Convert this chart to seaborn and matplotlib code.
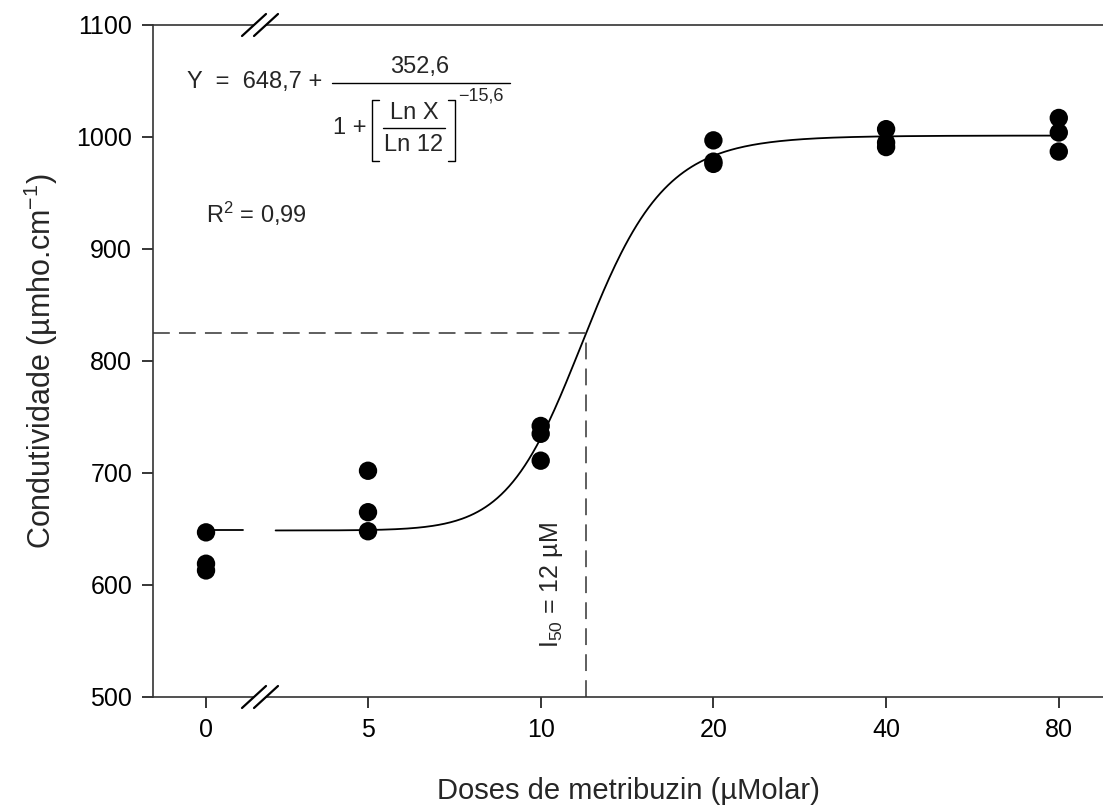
import numpy as np
import pandas as pd
import matplotlib
matplotlib.use("Agg")
import matplotlib.pyplot as plt
from matplotlib.lines import Line2D
from matplotlib.patches import Polygon
import seaborn as sns

# data
doses = [0, 5, 10, 20, 40, 80]
rep1 = [647, 702, 742, 997, 1007, 1017]
rep2 = [619, 665, 735, 978, 995, 1004]
rep3 = [613, 648, 711, 976, 991, 987]

# fitted model  Y = a + b / (1 + (lnX/ln x0)^c)
a_fit, b_fit, x0_fit, c_fit = 648.7, 352.6, 12.0, -15.6
tick_labels = ["0", "5", "10", "20", "40", "80"]

W, H = 1103, 807
sns.set_theme(style="ticks")
plt.rcParams["font.family"] = ["Liberation Sans", "DejaVu Sans"]
plt.rcParams["mathtext.fontset"] = "custom"
plt.rcParams["mathtext.rm"] = "Liberation Sans"
plt.rcParams["mathtext.it"] = "Liberation Sans:italic"

fig = plt.figure(figsize=(W / 100, H / 100), dpi=100)
ax = fig.add_axes([153 / W, 1 - 697 / H, 1 - 153 / W, (697 - 25) / H])

# x position: doubling scale from 5, the zero dose sits left of the break
ZERO_POS = -0.938
BREAK_POS = -0.625


def xpos(d):
    d = np.asarray(d, dtype=float)
    return np.where(d > 0, np.log2(np.where(d > 0, d, 1) / 5.0), ZERO_POS)


def model(x):
    return a_fit + b_fit / (1 + (np.log(x) / np.log(x0_fit)) ** c_fit)


df = pd.DataFrame({
    "dose": doses * 3,
    "cond": rep1 + rep2 + rep3,
})
df["pos"] = xpos(df["dose"])

# fitted curve
xr = np.geomspace(5 * 2 ** (BREAK_POS + 0.09), 80, 400)
curve = pd.DataFrame({"pos": xpos(xr), "cond": model(xr)})
left = pd.DataFrame({"pos": [ZERO_POS, BREAK_POS - 0.1], "cond": [a_fit, a_fit]})
sns.lineplot(data=left, x="pos", y="cond", color="black", lw=1.3, ax=ax)
sns.lineplot(data=curve, x="pos", y="cond", color="black", lw=1.3, ax=ax)

sns.scatterplot(data=df, x="pos", y="cond", color="black", s=175,
                edgecolor="none", zorder=5, ax=ax)

# I50 guide lines
y50 = model(x0_fit)
x50 = xpos(x0_fit)
ax.plot([-1.245, x50], [y50, y50], color="#333333", lw=1.1, dashes=(11, 6))
ax.plot([x50, x50], [500, y50], color="#333333", lw=1.1, dashes=(11, 6))

ax.set_xlim(-1.245, 4.256)
ax.set_ylim(500, 1100)
ax.set_xticks(xpos(doses))
ax.set_xticklabels(tick_labels)
ax.set_yticks(np.arange(500, 1101, 100))
ax.tick_params(direction="out", length=8, width=1.1, labelsize=18,
               colors="black", pad=7)
for side in ["left", "top", "bottom"]:
    ax.spines[side].set_color("#333333")
    ax.spines[side].set_linewidth(1.2)
ax.spines["right"].set_visible(False)
ax.spines["top"].set_visible(True)

ax.set_xlabel("Doses de metribuzin (µMolar)", fontsize=21, labelpad=25)
ax.set_ylabel("Condutividade (µmho.cm$^{-1}$)", fontsize=22, labelpad=12)

ax.text(x50 - 0.2, 600, "I$_{50}$ = 12 µM", rotation=90, fontsize=18,
        ha="center", va="center")


# axis break marks (figure pixels)
def fp(x, y):
    return (x / W, 1 - y / H)


for yb in (25, 697):
    xc = 260
    gap = Polygon([fp(xc - 6 - 11, yb + 10), fp(xc - 6 + 11, yb - 10),
                   fp(xc + 6 + 11, yb - 10), fp(xc + 6 - 11, yb + 10)],
                  closed=True, facecolor="white", edgecolor="none",
                  transform=fig.transFigure, zorder=10)
    fig.add_artist(gap)
    for off in (-6, 6):
        x1, y1 = fp(xc + off - 12, yb + 11)
        x2, y2 = fp(xc + off + 12, yb - 11)
        fig.add_artist(Line2D([x1, x2], [y1, y2], color="black", lw=1.6,
                              transform=fig.transFigure, zorder=11))

# equation
tf = fig.transFigure
fig.text(*fp(187, 82), "Y  =  648,7 +", fontsize=17, va="center", ha="left")
fig.add_artist(Line2D([332 / W, 510 / W], [1 - 83 / H] * 2, color="black",
                      lw=1.0, transform=tf))
fig.text(*fp(420, 67), "352,6", fontsize=17, va="center", ha="center")
fig.text(*fp(333, 128), "1 +", fontsize=17, va="center", ha="left")
fig.text(*fp(414, 113), "Ln X", fontsize=17, va="center", ha="center")
fig.text(*fp(414, 145), "Ln 12", fontsize=17, va="center", ha="center")
fig.add_artist(Line2D([383 / W, 445 / W], [1 - 128 / H] * 2, color="black",
                      lw=1.0, transform=tf))
for xb, sgn in ((372, 1), (455, -1)):
    xs = [xb + sgn * 7, xb, xb, xb + sgn * 7]
    ys = [100, 100, 161, 161]
    fig.add_artist(Line2D([v / W for v in xs], [1 - v / H for v in ys],
                          color="black", lw=1.0, transform=tf))
fig.text(*fp(458, 96), "−15,6", fontsize=13, va="center", ha="left")
fig.text(*fp(206, 214), "R$^2$ = 0,99", fontsize=17, va="center", ha="left")

fig.savefig("out.png", dpi=100)
